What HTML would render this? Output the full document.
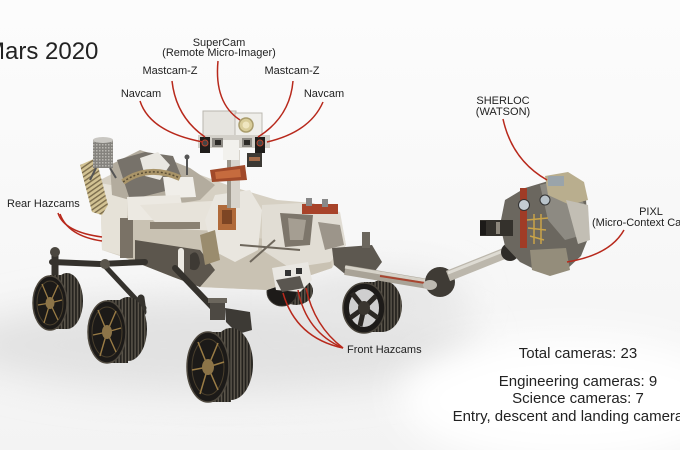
<!DOCTYPE html>
<html>
<head>
<meta charset="utf-8">
<style>
  html,body{margin:0;padding:0;background:#fafafa;}
  svg{display:block;}
  text{font-family:"Liberation Sans",Arial,sans-serif;fill:#222;}
</style>
</head>
<body>
<svg width="680" height="450" viewBox="0 0 680 450" xmlns="http://www.w3.org/2000/svg">
  <defs>
    <linearGradient id="bg" x1="0" y1="0" x2="0" y2="1">
      <stop offset="0" stop-color="#fcfcfc"/>
      <stop offset="0.6" stop-color="#f7f7f7"/>
      <stop offset="1" stop-color="#f3f3f3"/>
    </linearGradient>
    <filter id="blur20" x="-50%" y="-50%" width="200%" height="200%"><feGaussianBlur stdDeviation="18"/></filter>
    <pattern id="tread" width="3.2" height="10" patternUnits="userSpaceOnUse">
      <rect width="3.2" height="10" fill="#23211d"/>
      <rect width="1.5" height="10" fill="#5a554b"/>
    </pattern>
    <pattern id="rtg" width="3" height="3" patternUnits="userSpaceOnUse">
      <rect width="3" height="3" fill="#85837e"/>
      <rect width="1.5" height="1.5" fill="#b9b7b1"/>
    </pattern>
    <pattern id="slats" width="4" height="4" patternUnits="userSpaceOnUse" patternTransform="rotate(-35)">
      <rect width="4" height="4" fill="#d2c293"/>
      <rect width="4" height="1.4" fill="#7b6c4c"/>
    </pattern>
  </defs>

  <!-- background -->
  <rect width="680" height="450" fill="url(#bg)"/>
  <ellipse cx="220" cy="345" rx="260" ry="48" fill="#e2e2e2" filter="url(#blur20)"/>
  <ellipse cx="380" cy="300" rx="90" ry="30" fill="#e6e6e6" filter="url(#blur20)"/>
  <ellipse cx="570" cy="400" rx="170" ry="65" fill="#ffffff" filter="url(#blur20)"/>

  <!-- far wheels -->
  <g>
    <ellipse cx="296" cy="291" rx="17" ry="14" fill="url(#tread)"/>
    <ellipse cx="282" cy="292" rx="15" ry="14" fill="#1d1b19" stroke="#3d3933"/>
    <ellipse cx="382" cy="306" rx="20" ry="26" fill="url(#tread)"/>
    <rect x="364" y="282" width="18" height="50" fill="url(#tread)"/>
    <ellipse cx="364" cy="308" rx="21" ry="25" fill="#1d1b19" stroke="#4a453c" stroke-width="1.5"/>
    <ellipse cx="364" cy="308" rx="15" ry="19" fill="#cfcfcf"/>
    <path d="M364,308 L352,293 M364,308 L376,296 M364,308 L378,318 M364,308 L360,326 M364,308 L350,318" stroke="#2b2824" stroke-width="5"/>
    <ellipse cx="364" cy="308" rx="6" ry="7" fill="#3a3630"/>
  </g>

  <!-- body main -->
  <polygon points="100,180 140,160 187,170 233,187 277,200 313,203 340,215 346,245 332,268 267,290 200,287 173,277 123,257 102,250" fill="#d6d0c3"/>
  <polygon points="123,215 200,228 270,240 330,248 332,268 267,290 200,287 173,277 123,257" fill="#c9c2b3"/>
  <polygon points="100,183 127,188 127,257 102,250" fill="#e6e2d8"/>
  <rect x="120" y="218" width="13" height="40" fill="#7a7266"/>
  <polygon points="135,240 200,250 215,270 200,287 173,277 135,262" fill="#5c564d"/>
  <path d="M190,255 q8,-8 10,8 q-2,10 -10,6" fill="#3e3a34"/>
  <rect x="178" y="248" width="6" height="28" fill="#ece9e2" rx="3"/>
  <!-- top deck clutter -->
  <polygon points="110,165 140,150 165,158 190,168 215,185 200,200 170,205 130,200 112,195" fill="#b3ac9e"/>
  <polygon points="117,160 145,152 173,156 185,186 130,200" fill="#77726a"/>
  <polygon points="140,158 158,152 170,165 160,180 145,176" fill="#e9e7e1"/>
  <polygon points="163,177 193,177 196,197 166,198" fill="#f0eee9"/>
  <polygon points="127,197 180,195 185,220 128,220" fill="#ece9e2"/>
  <path d="M123,182 Q148,164 180,178" stroke="#a99468" stroke-width="6" fill="none"/>
  <path d="M123,182 Q148,164 180,178" stroke="#5b4f37" stroke-width="1.5" stroke-dasharray="2 2" fill="none"/>
  <line x1="187" y1="157" x2="187" y2="175" stroke="#555" stroke-width="2"/>
  <circle cx="187" cy="157" r="2.5" fill="#555"/>
  <polygon points="140,205 230,200 250,212 236,232 160,228" fill="#e7e3da"/>
  <rect x="150" y="222" width="50" height="7" fill="#8a8172"/>
  <!-- rear radiator -->
  <polygon points="80,165 96,158 108,205 102,215 92,212" fill="url(#slats)"/>
  <!-- RTG -->
  <rect x="93" y="140" width="20" height="28" fill="url(#rtg)"/>
  <ellipse cx="103" cy="140" rx="10" ry="3" fill="#c9c7c2"/>
  <path d="M96,168 L90,180 M110,168 L116,178" stroke="#555" stroke-width="2"/>
  <!-- central mast base area -->
  <polygon points="215,195 250,190 262,210 258,250 235,262 212,250 205,220" fill="#e9e6df"/>
  <rect x="218" y="205" width="18" height="25" fill="#b06a3a"/>
  <rect x="222" y="210" width="10" height="14" fill="#7d4524"/>
  <polygon points="200,235 215,230 220,260 205,265" fill="#9a8c6e"/>
  <!-- front section -->
  <polygon points="262,205 300,203 340,212 346,245 330,262 290,268 262,250" fill="#e1ddd4"/>
  <polygon points="280,213 313,215 310,245 285,247" fill="#7d766b"/>
  <polygon points="288,218 306,220 303,240 290,240" fill="#a59e92"/>
  <rect x="302" y="204" width="36" height="10" fill="#a8432a"/>
  <rect x="306" y="198" width="6" height="8" fill="#888"/>
  <rect x="322" y="199" width="6" height="8" fill="#888"/>
  <polygon points="318,222 340,225 344,245 325,250" fill="#9c958a"/>
  <line x1="240" y1="245" x2="300" y2="250" stroke="#6e675c" stroke-width="2"/>
  <line x1="250" y1="262" x2="275" y2="240" stroke="#6e675c" stroke-width="2"/>
  <!-- front hazcam bracket -->
  <polygon points="272,268 308,262 312,280 300,292 276,290" fill="#e9e7e2"/>
  <polygon points="276,280 300,276 304,288 282,292" fill="#5a5650"/>
  <rect x="285" y="270" width="6" height="6" fill="#333"/>
  <rect x="296" y="268" width="6" height="6" fill="#333"/>

  <!-- mast -->
  <rect x="227" y="150" width="13" height="58" fill="#d8d4cc"/>
  <rect x="227" y="150" width="4" height="58" fill="#9d978c"/>
  <polygon points="210,170 245,165 247,180 212,182" fill="#a14a2a"/>
  <polygon points="215,172 240,169 241,177 216,179" fill="#c66b3e"/>
  <rect x="247" y="153" width="15" height="14" fill="#3c3934"/>
  <rect x="249" y="157" width="11" height="4" fill="#a36b4a"/>
  <!-- head -->
  <rect x="203" y="111" width="33" height="27" fill="#e6e4df" stroke="#b9b6af"/>
  <rect x="235" y="113" width="27" height="25" fill="#efeeea" stroke="#bcb9b1"/>
  <circle cx="246" cy="125" r="7" fill="#d9cd9a" stroke="#a99c6c" stroke-width="1.5"/>
  <circle cx="246" cy="125" r="3.5" fill="#efe6c0"/>
  <rect x="198" y="135" width="72" height="13" fill="#d3d0c9"/>
  <rect x="200" y="137" width="10" height="16" fill="#1f1d1b"/>
  <circle cx="205" cy="143" r="3" fill="#444" stroke="#b8442c"/>
  <rect x="212" y="138" width="11" height="9" fill="#8d8a84"/>
  <rect x="215" y="140" width="6" height="5" fill="#2c2a27"/>
  <rect x="242" y="138" width="10" height="9" fill="#8d8a84"/>
  <rect x="244" y="140" width="6" height="5" fill="#2c2a27"/>
  <rect x="255" y="137" width="10" height="16" fill="#1f1d1b"/>
  <circle cx="260" cy="143" r="3" fill="#444" stroke="#b8442c"/>
  <rect x="223" y="140" width="16" height="20" fill="#f2f1ed"/>

  <!-- rocker-bogie near side -->
  <g stroke="#35322d" fill="none" stroke-linecap="round">
    <path d="M52,262 L100,264 L145,262" stroke-width="6"/>
    <path d="M104,265 L144,308" stroke-width="5"/>
    <path d="M175,268 L217,312" stroke-width="6"/>
    <path d="M55,255 L55,278" stroke-width="7"/>
    <path d="M141,298 L143,312" stroke-width="7"/>
  </g>
  <circle cx="55" cy="252" r="5" fill="#4a463f"/>
  <rect x="210" y="302" width="15" height="18" fill="#4d4943"/>
  <rect x="208" y="298" width="19" height="5" fill="#6b665d"/>
  <polygon points="225,308 250,312 252,330 238,334 226,322" fill="#3d3a35"/>
  <circle cx="105" cy="264" r="5" fill="#5a554c"/>

  <!-- wheel 1 -->
  <g>
    <ellipse cx="67" cy="301" rx="16" ry="28" fill="url(#tread)"/>
    <rect x="50" y="275" width="17" height="54" fill="url(#tread)"/>
    <ellipse cx="50" cy="303" rx="17" ry="27" fill="#1c1a18" stroke="#4e483e" stroke-width="1.5"/>
    <ellipse cx="50" cy="303" rx="13" ry="22" fill="none" stroke="#4a3f2c" stroke-width="1"/>
    <path d="M50,303 L42,284 M50,303 L58,285 M50,303 L62,300 M50,303 L58,320 M50,303 L44,323 M50,303 L38,305" stroke="#9a7c45" stroke-width="1.3"/>
    <ellipse cx="50" cy="303" rx="4.5" ry="6" fill="#8c7448"/>
  </g>
  <!-- wheel 2 -->
  <g>
    <ellipse cx="128" cy="329" rx="19" ry="32" fill="url(#tread)"/>
    <rect x="107" y="300" width="21" height="63" fill="url(#tread)"/>
    <ellipse cx="107" cy="332" rx="19" ry="31" fill="#1c1a18" stroke="#4e483e" stroke-width="1.5"/>
    <ellipse cx="107" cy="332" rx="15" ry="25" fill="none" stroke="#4a3f2c" stroke-width="1"/>
    <path d="M107,332 L98,310 M107,332 L116,311 M107,332 L121,328 M107,332 L116,352 M107,332 L100,356 M107,332 L93,335" stroke="#9a7c45" stroke-width="1.4"/>
    <ellipse cx="107" cy="332" rx="5" ry="7" fill="#8c7448"/>
  </g>
  <!-- wheel 3 -->
  <g>
    <ellipse cx="231" cy="364" rx="22" ry="36" fill="url(#tread)"/>
    <rect x="208" y="332" width="23" height="70" fill="url(#tread)"/>
    <ellipse cx="208" cy="367" rx="21" ry="35" fill="#1c1a18" stroke="#4e483e" stroke-width="1.5"/>
    <ellipse cx="208" cy="367" rx="16" ry="28" fill="none" stroke="#4a3f2c" stroke-width="1"/>
    <path d="M208,367 L198,342 M208,367 L218,343 M208,367 L224,362 M208,367 L218,390 M208,367 L200,394 M208,367 L192,370" stroke="#9a7c45" stroke-width="1.5"/>
    <ellipse cx="208" cy="367" rx="6" ry="8" fill="#8c7448"/>
  </g>

  <!-- arm -->
  <polygon points="332,248 372,245 382,262 372,275 345,274 334,265" fill="#5d5850"/>
  <rect x="362" y="232" width="8" height="16" fill="#6c675e"/>
  <line x1="345" y1="270" x2="428" y2="284" stroke="#a9a397" stroke-width="10"/>
  <line x1="345" y1="267" x2="428" y2="281" stroke="#d6d2c8" stroke-width="3"/>
  <line x1="380" y1="276" x2="425" y2="283" stroke="#a84530" stroke-width="2"/>
  <circle cx="440" cy="282" r="15" fill="#3f3b35"/>
  <ellipse cx="430" cy="285" rx="7" ry="5" fill="#bdb9b1"/>
  <line x1="448" y1="276" x2="508" y2="252" stroke="#bcb7ac" stroke-width="11"/>
  <line x1="448" y1="273" x2="508" y2="249" stroke="#dedbd3" stroke-width="3"/>
  <circle cx="510" cy="252" r="9" fill="#2f2c28"/>

  <!-- turret -->
  <polygon points="505,200 525,188 545,182 560,178 576,186 586,200 589,236 581,256 566,270 540,272 520,262 505,246 500,225" fill="#6b675f"/>
  <polygon points="540,185 560,180 575,190 585,205 583,235 565,240 548,220" fill="#8d8a82"/>
  <polygon points="545,176 568,172 584,182 588,200 570,205 548,195" fill="#b9ae8e"/>
  <rect x="548" y="176" width="16" height="10" fill="#9aa4aa"/>
  <rect x="480" y="220" width="33" height="16" fill="#34312c"/>
  <rect x="480" y="221" width="6" height="14" fill="#1c1a18"/>
  <rect x="496" y="222" width="4" height="12" fill="#8d877c"/>
  <rect x="520" y="188" width="7" height="60" fill="#a03c26"/>
  <path d="M527,220 L548,218 M528,228 L546,230 M530,236 L544,240 M534,214 L534,244 M541,214 L541,244" stroke="#c9a348" stroke-width="1.5"/>
  <circle cx="524" cy="205" r="5.5" fill="#c4ccd2" stroke="#333"/>
  <circle cx="545" cy="200" r="5" fill="#b9c3ca" stroke="#333"/>
  <polygon points="530,250 566,248 570,270 550,276 532,270" fill="#948d7b"/>
  <polygon points="566,200 588,205 590,240 578,244" fill="#c2beb4"/>

  <!-- red leader lines -->
  <g stroke="#b8291c" stroke-width="1.5" fill="none">
    <path d="M140,101 Q150,132 203,142"/>
    <path d="M172,81 Q176,117 205,137"/>
    <path d="M218,61 Q214,103 240,120"/>
    <path d="M293,81 Q290,117 258,137"/>
    <path d="M323,102 Q310,132 267,142"/>
    <path d="M503,119 Q512,160 547,180"/>
    <path d="M624,230 Q610,255 567,262"/>
    <path d="M58,213 Q64,232 102,237"/>
    <path d="M60,214 Q68,236 102,241"/>
    <path d="M343,348 Q296,338 283,293"/>
    <path d="M343,348 Q306,332 298,290"/>
    <path d="M343,348 Q314,326 306,288"/>
  </g>

  <!-- labels -->
  <text x="-15" y="59" font-size="24">Mars 2020</text>
  <g font-size="11" text-anchor="middle">
    <text x="219" y="46">SuperCam</text>
    <text x="219" y="56">(Remote Micro-Imager)</text>
    <text x="170" y="74">Mastcam-Z</text>
    <text x="292" y="74">Mastcam-Z</text>
    <text x="141" y="97">Navcam</text>
    <text x="324" y="97">Navcam</text>
    <text x="503" y="104">SHERLOC</text>
    <text x="503" y="115">(WATSON)</text>
    <text x="651" y="215">PIXL</text>
    <text x="651" y="226">(Micro-Context Camera)</text>
  </g>
  <text x="7" y="207" font-size="11">Rear Hazcams</text>
  <text x="347" y="353" font-size="11">Front Hazcams</text>
  <g font-size="15" text-anchor="middle">
    <text x="578" y="358">Total cameras: 23</text>
    <text x="578" y="386">Engineering cameras: 9</text>
    <text x="578" y="403">Science cameras: 7</text>
    <text x="580" y="421">Entry, descent and landing cameras: 7</text>
  </g>
</svg>
</body>
</html>
